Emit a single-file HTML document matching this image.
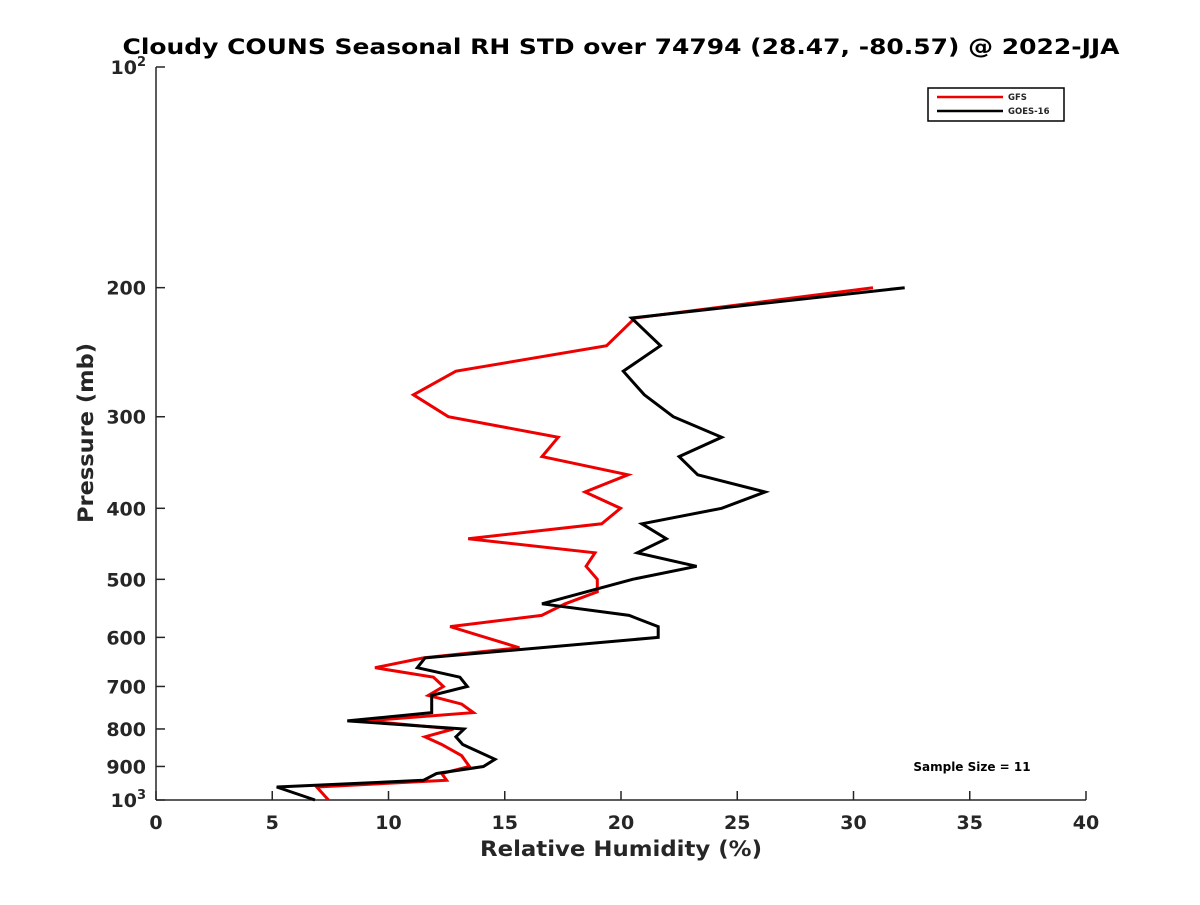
<!DOCTYPE html>
<html><head><meta charset="utf-8"><style>
body{margin:0;background:#fff;}
svg text{font-family:"DejaVu Sans","Liberation Sans",sans-serif;font-weight:bold;fill:#262626;}
</style></head><body>
<svg id="chart" width="1200" height="900">
<rect width="1200" height="900" fill="#fff"/>
<text x="621" y="54" font-size="21.5" text-anchor="middle" textLength="997" lengthAdjust="spacingAndGlyphs" style="fill:#000">Cloudy COUNS Seasonal RH STD over 74794 (28.47, -80.57) @ 2022-JJA</text>
<g id="axes"></g>
<g id="series"></g>
<text x="621" y="856" font-size="21" text-anchor="middle" textLength="282" lengthAdjust="spacingAndGlyphs">Relative Humidity (%)</text>
<text transform="translate(93,433) rotate(-90)" font-size="21" text-anchor="middle" textLength="180" lengthAdjust="spacingAndGlyphs">Pressure (mb)</text>
<g>
<rect x="928" y="88" width="136" height="33" fill="#fff" stroke="#000" stroke-width="1.5"/>
<line x1="937" y1="97" x2="1003" y2="97" stroke="#e00" stroke-width="2.5"/>
<text x="1008" y="100" font-size="8.5">GFS</text>
<line x1="937" y1="111" x2="1003" y2="111" stroke="#000" stroke-width="2.5"/>
<text x="1008" y="114" font-size="8.5">GOES-16</text>
</g>
<text x="972" y="771" font-size="12" text-anchor="middle" style="fill:#000">Sample Size = 11</text>
</svg>
<script>
const xTicks=[0,5,10,15,20,25,30,35,40];
const yTicks=[100,200,300,400,500,600,700,800,900,1000];
const gfsP=[200,220,240,260,280,300,320,340,360,380,400,420,440,460,480,500,520,540,560,580,620,640,660,680,700,720,740,760,780,800,820,840,870,900,920,940,960,1000];
const gfsV=[30.84,20.6,19.38,12.9,11.07,12.57,17.3,16.6,20.3,18.45,19.98,19.17,13.43,18.88,18.5,18.98,18.98,17.6,16.59,12.65,15.63,11.5,9.42,11.93,12.36,11.71,13.15,13.65,9.06,12.79,11.57,12.29,13.15,13.48,12.29,12.5,6.91,7.42];
const goesP=[200,220,240,260,280,300,320,340,360,380,400,420,440,460,480,500,540,560,580,600,640,660,680,700,720,760,780,800,820,840,880,900,920,940,960,1000];
const goesV=[32.2,20.45,21.7,20.1,21.0,22.25,24.33,22.5,23.3,26.2,24.33,20.9,21.95,20.7,23.25,20.5,16.6,20.35,21.6,21.6,11.57,11.24,13.07,13.39,11.86,11.86,8.23,13.25,12.9,13.19,14.58,14.08,12.07,11.5,5.19,6.84];
const X0=156,X1=1086,Y0=67,Y1=800;
const xs=v=>X0+(v-0)/40*(X1-X0);
const ys=p=>Y0+(Math.log10(p)-2)*(Y1-Y0);
const NS="http://www.w3.org/2000/svg";
const ax=document.getElementById('axes');
function mk(t,a,parent){const e=document.createElementNS(NS,t);for(const k in a)e.setAttribute(k,a[k]);parent.appendChild(e);return e;}
const xl=mk('line',{x1:X0,y1:Y1,x2:X1,y2:Y1,stroke:'#262626','stroke-width':1.5},ax);


const yl=mk('line',{x1:X0,y1:Y0,x2:X0,y2:Y1,stroke:'#262626','stroke-width':1.5},ax);


xTicks.forEach(v=>{
 const x=xs(v);
 mk('line',{x1:x,y1:Y1,x2:x,y2:Y1-9,stroke:'#262626','stroke-width':1.5},ax);
 const t=mk('text',{x:x,y:Y1+29,'font-size':19,'text-anchor':'middle'},ax);
 t.textContent=v;
 
 
});
yTicks.forEach(p=>{
 const y=ys(p);
 mk('line',{x1:X0,y1:y,x2:X0+9,y2:y,stroke:'#262626','stroke-width':1.5},ax);
 const t=mk('text',{x:X0-10,y:y+7,'font-size':19,'text-anchor':'end'},ax);
 if(p===100||p===1000){
  t.textContent='10';
  const s=mk('tspan',{dy:-8,'font-size':13},t);s.textContent=p===100?'2':'3';
 } else t.textContent=p;
 
 
});
const sg=document.getElementById('series');
function line(P,V,color,name){
 const pts=P.map((p,i)=>xs(V[i]).toFixed(1)+','+ys(p).toFixed(1)).join(' ');
 const e=mk('polyline',{points:pts,fill:'none',stroke:color,'stroke-width':3,'stroke-linejoin':'miter'},sg);
 
 
}
line(gfsP,gfsV,'#e00','gfs-line');
line(goesP,goesV,'#000','goes16-line');
</script>
</body></html>
